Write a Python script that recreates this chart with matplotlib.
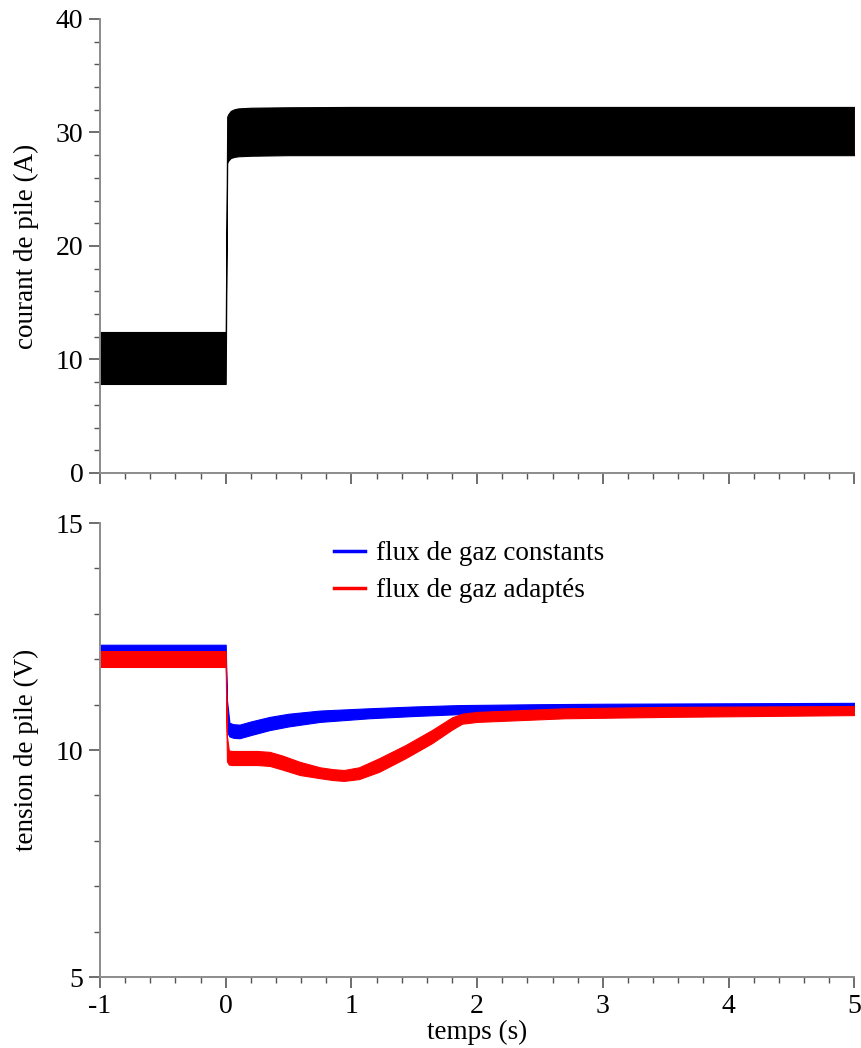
import matplotlib.pyplot as plt
from matplotlib.lines import Line2D
from matplotlib.ticker import MultipleLocator

plt.rcParams['font.family'] = ['Liberation Serif', 'DejaVu Serif']

# Current envelope (A): lower / upper edge of the ripple band
t_cur = [-1, 0, 0.012, 0.02, 0.04, 0.07, 0.1, 0.2, 0.5, 1, 5]
cur_lo = [7.84, 7.84, 27.3, 27.5, 27.75, 27.85, 27.9, 27.95, 28.0, 28.0, 28.0]
cur_up = [12.42, 12.42, 31.4, 31.6, 31.9, 32.05, 32.12, 32.18, 32.22, 32.25, 32.25]

# Voltage envelope (V), constant gas flows
t_blue = [-1, 0, 0.01, 0.03, 0.06, 0.11, 0.2, 0.35, 0.5, 0.75, 1.14, 1.5,
          1.85, 2.5, 3.0, 4.0, 5.0]
blue_up = [12.32, 12.32, 11.1, 10.6, 10.57, 10.56, 10.63, 10.73, 10.8, 10.87,
           10.92, 10.96, 10.99, 11.01, 11.02, 11.03, 11.04]
blue_lo = [12.15, 12.15, 10.4, 10.3, 10.27, 10.26, 10.33, 10.44, 10.52, 10.62,
           10.70, 10.75, 10.79, 10.83, 10.85, 10.87, 10.88]

# Voltage envelope (V), adapted gas flows
t_red = [-1, 0, 0.01, 0.025, 0.05, 0.15, 0.25, 0.35, 0.45, 0.59, 0.75, 0.85,
         0.94, 1.06, 1.22, 1.43, 1.64, 1.8, 1.88, 2.0, 2.7, 3.5, 5.0]
red_up = [12.18, 12.18, 10.3, 9.99, 9.98, 9.98, 9.98, 9.96, 9.88, 9.74, 9.62,
          9.58, 9.56, 9.62, 9.82, 10.11, 10.44, 10.72, 10.8, 10.84, 10.92,
          10.95, 10.97]
red_lo = [11.83, 11.83, 9.75, 9.68, 9.67, 9.67, 9.67, 9.65, 9.57, 9.45, 9.38,
          9.34, 9.32, 9.36, 9.52, 9.82, 10.15, 10.45, 10.58, 10.62, 10.70,
          10.73, 10.77]

x_ticks = [-1, 0, 1, 2, 3, 4, 5]
x_ticklabels = ['-1', '0', '1', '2', '3', '4', '5']
labels = ['flux de gaz constants', 'flux de gaz adaptés']

fig = plt.figure(figsize=(8.62, 10.48), dpi=100)
ax1 = fig.add_axes([0.116, 0.5487, 0.875, 0.4332])
ax2 = fig.add_axes([0.116, 0.0677, 0.875, 0.4332])

spine_col = '#8c8c8c'
for ax in (ax1, ax2):
    for s in ('top', 'right'):
        ax.spines[s].set_visible(False)
    for s in ('left', 'bottom'):
        ax.spines[s].set_color(spine_col)
        ax.spines[s].set_linewidth(1.4)
    ax.set_xticks(x_ticks)
    ax.xaxis.set_minor_locator(MultipleLocator(0.2))
    ax.set_xlim(-1, 5)
    ax.tick_params(which='major', direction='out', length=8, width=1.2,
                   color='#555555', labelsize=20, pad=4)
    ax.tick_params(which='minor', direction='out', length=4, width=1.0,
                   color='#555555')

# top: current
ax1.fill_between(t_cur, cur_lo, cur_up, color='black', lw=0.8)
ax1.set_ylim(0, 40)
ax1.yaxis.set_major_locator(MultipleLocator(10))
ax1.yaxis.set_minor_locator(MultipleLocator(2))
ax1.tick_params(axis='x', labelbottom=False)
ax1.set_ylabel('courant de pile (A)', fontsize=19.5, labelpad=12)

# bottom: voltage
ax2.fill_between(t_blue, blue_lo, blue_up, color='#0000ff', lw=0.8)
ax2.fill_between(t_red, red_lo, red_up, color='#ff0000', lw=0.8)
ax2.set_ylim(5, 15)
ax2.yaxis.set_major_locator(MultipleLocator(5))
ax2.yaxis.set_minor_locator(MultipleLocator(1))
ax2.set_xticklabels(x_ticklabels)
ax2.set_xlabel('temps (s)', fontsize=19.5, labelpad=1)
ax2.set_ylabel('tension de pile (V)', fontsize=19.5, labelpad=12)

handles = [Line2D([], [], color='#0000ff', lw=2.5),
           Line2D([], [], color='#ff0000', lw=2.5)]
ax2.legend(handles, labels, loc='upper left', bbox_to_anchor=(0.31, 0.96),
           frameon=False, fontsize=19.5, handlelength=1.15, handletextpad=0.42,
           labelspacing=0.45, borderpad=0, borderaxespad=0)

plt.savefig('out.png', dpi=100, facecolor='white')
